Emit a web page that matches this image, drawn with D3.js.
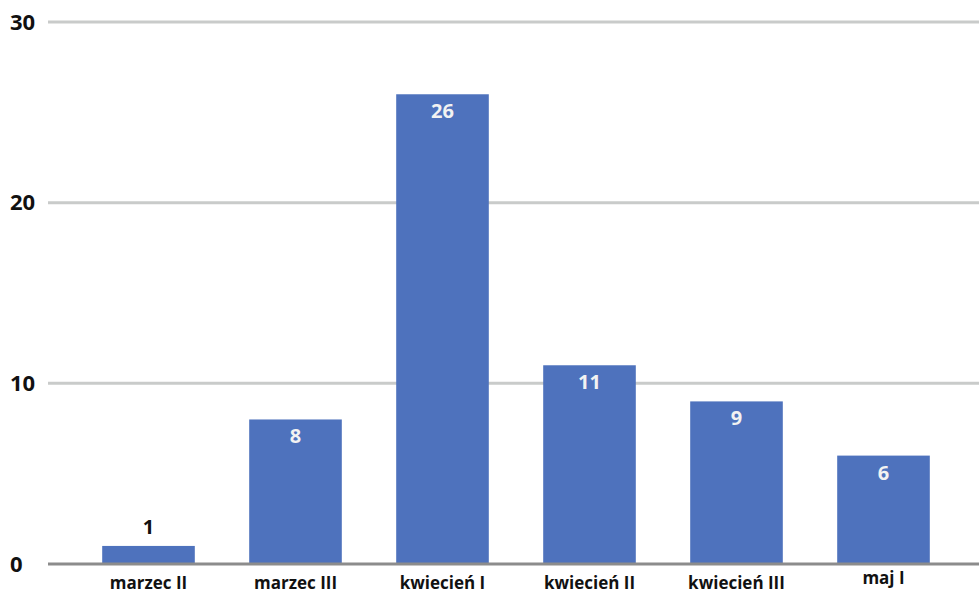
<!DOCTYPE html>
<html>
<head>
<meta charset="utf-8">
<script src="https://cdn.jsdelivr.net/npm/d3@7"></script>
<style>
  body { margin: 0; background: #fff; }
  svg text { font-family: "Open Sans", "DejaVu Sans", sans-serif; font-weight: bold; }
</style>
</head>
<body>
<div id="chart"></div>
<script>
const categories = ["marzec II", "marzec III", "kwiecień I", "kwiecień II", "kwiecień III", "maj I"];
const values = [1, 8, 26, 11, 9, 6];
const yTicks = [0, 10, 20, 30];

const width = 979, height = 595;

const svg = d3.select("#chart").append("svg")
  .attr("width", width)
  .attr("height", height);

// scales
const x = d3.scaleBand()
  .domain(categories)
  .range([75, 957])
  .paddingInner(0.37)
  .paddingOuter(0.185);

const y = d3.scaleLinear()
  .domain([0, 30])
  .range([564, 22]);

// gridlines
svg.append("g")
  .selectAll("line")
  .data(yTicks.filter(d => d > 0))
  .enter()
  .append("line")
  .attr("x1", 48)
  .attr("x2", width)
  .attr("y1", d => y(d))
  .attr("y2", d => y(d))
  .attr("stroke", "#c9cbca")
  .attr("stroke-width", 3);

// y tick labels
svg.append("g")
  .selectAll("text")
  .data(yTicks)
  .enter()
  .append("text")
  .attr("x", 10)
  .attr("y", d => y(d))
  .attr("dy", "0.35em")
  .attr("font-size", 22)
  .attr("fill", "#111")
  .text(d => d);

// bars
svg.append("g")
  .selectAll("rect")
  .data(values)
  .enter()
  .append("rect")
  .attr("x", (d, i) => x(categories[i]))
  .attr("y", d => y(d))
  .attr("width", x.bandwidth())
  .attr("height", d => y(0) - y(d))
  .attr("fill", "#4e72bd");

// zero line
svg.append("line")
  .attr("x1", 48)
  .attr("x2", width)
  .attr("y1", y(0))
  .attr("y2", y(0))
  .attr("stroke", "#8c8c8c")
  .attr("stroke-width", 3);

// value labels
svg.append("g")
  .selectAll("text")
  .data(values)
  .enter()
  .append("text")
  .attr("x", (d, i) => x(categories[i]) + x.bandwidth() / 2)
  .attr("y", d => (y(0) - y(d) > 40) ? y(d) + 17 : y(d) - 19)
  .attr("dy", "0.35em")
  .attr("text-anchor", "middle")
  .attr("font-size", 20)
  .attr("fill", d => (y(0) - y(d) > 40) ? "#f2f2f2" : "#111")
  .text(d => d);

// category labels
svg.append("g")
  .selectAll("text")
  .data(categories)
  .enter()
  .append("text")
  .attr("x", d => x(d) + x.bandwidth() / 2)
  .attr("y", (d, i) => i === categories.length - 1 ? 584 : 589)
  .attr("text-anchor", "middle")
  .attr("font-size", 17)
  .attr("fill", "#111")
  .text(d => d);
</script>
</body>
</html>
